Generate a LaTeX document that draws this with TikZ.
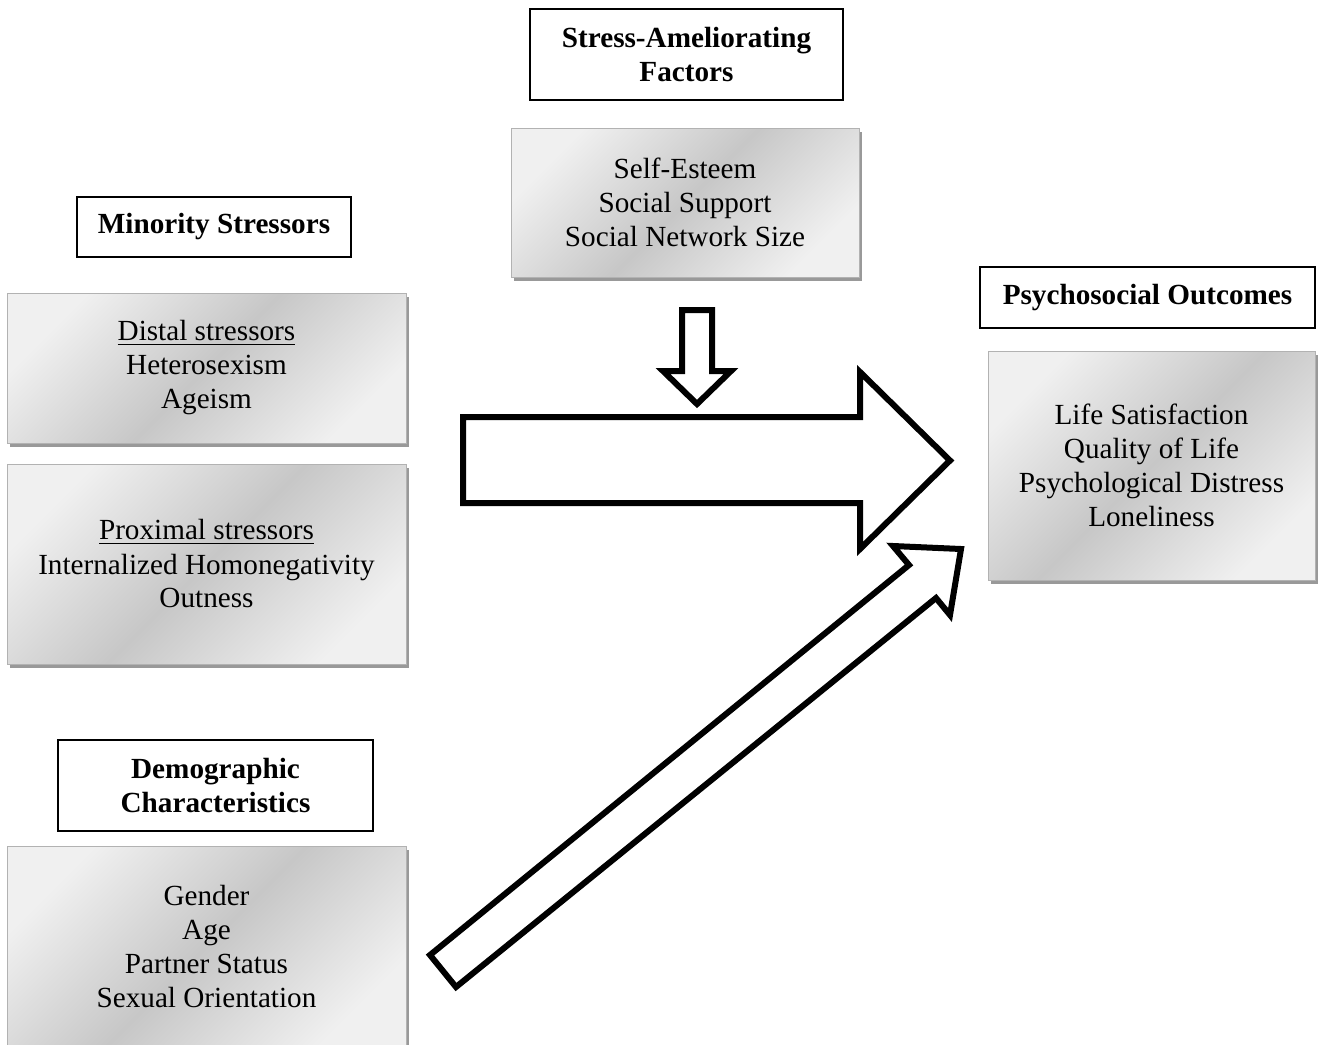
\documentclass[tikz,border=0pt]{standalone}
\usepackage{fontspec}
\setmainfont{Liberation Serif}
\usepackage{tikz}
\usetikzlibrary{shadows}

\begin{document}
\begin{tikzpicture}[x=0.5pt, y=-0.5pt,
    every node/.style={font=\fontsize{14.6}{17}\selectfont, align=center, inner sep=0pt},
    titlebox/.style={draw, line width=0.6pt, fill=white, font=\fontsize{14.6}{17}\selectfont\bfseries},
    greybox/.style={draw=black!30, line width=0.5pt,
        drop shadow={shadow xshift=1.5pt, shadow yshift=-2pt, fill=black!40, opacity=1},
        top color=black!6, bottom color=black!6, middle color=black!22, shading angle=45},
    blockarrow/.style={draw, line width=3pt, fill=white, line join=miter}]
    \path [use as bounding box, clip] (0,0) rectangle (1320,1044);

    % headings
    \node [titlebox, minimum width=156.5pt, minimum height=45.5pt] (stresshead) at (686.5,54.5) {Stress-Ameliorating\\Factors};
    \node [titlebox, minimum width=137pt, minimum height=30pt] (minorityhead) at (214,227) {Minority Stressors};
    \node [titlebox, minimum width=157.5pt, minimum height=45.5pt] (demohead) at (215.5,785.5) {Demographic\\Characteristics};
    \node [titlebox, minimum width=167.5pt, minimum height=30.5pt] (outcomehead) at (1147.5,297.5) {Psychosocial Outcomes};

    % shaded boxes
    \node [greybox, minimum width=174pt, minimum height=74.5pt] (stress) at (685,202.5) {Self-Esteem\\Social Support\\Social Network Size};
    \node [greybox, minimum width=199.5pt, minimum height=75pt] (distal) at (206.5,368) {\underline{Distal stressors}\\Heterosexism\\Ageism};
    \node [greybox, minimum width=199.5pt, minimum height=100pt] (proximal) at (206.5,564) {\underline{Proximal stressors}\\Internalized Homonegativity\\Outness};
    \node [greybox, minimum width=199.5pt, minimum height=100pt] (demo) at (206.5,946) {Gender\\Age\\Partner Status\\Sexual Orientation};
    \node [greybox, minimum width=163.5pt, minimum height=114.5pt] (outcome) at (1151.5,465.5) {Life Satisfaction\\Quality of Life\\Psychological Distress\\Loneliness};

    % block arrows
    \draw [blockarrow] (463,417) -- (860,417) -- (860,372) -- (950,460.5) -- (860,549) -- (860,503) -- (463,503) -- cycle;
    \draw [blockarrow] (682,310) -- (712,310) -- (712,371) -- (731,371) -- (697,404) -- (663,371) -- (682,371) -- cycle;
    \draw [blockarrow] (430,955) -- (909,565) -- (893,546) -- (961,549) -- (950,615) -- (936,598) -- (456,987) -- cycle;
\end{tikzpicture}
\end{document}
